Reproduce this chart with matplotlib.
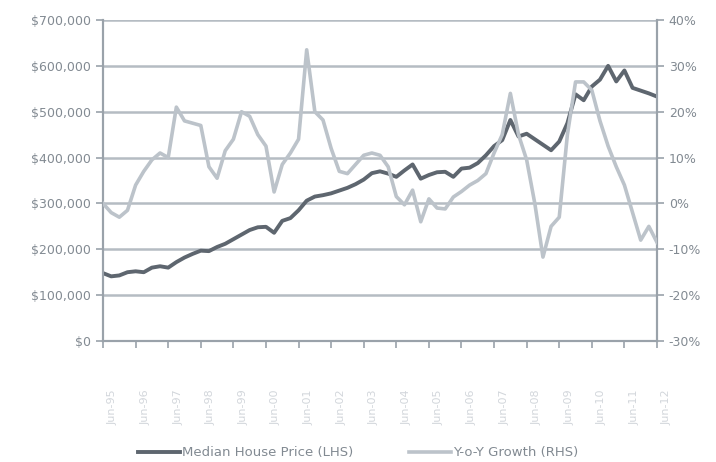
import matplotlib
matplotlib.use("Agg")
import matplotlib.pyplot as plt
import matplotlib.transforms as mtransforms
from matplotlib.ticker import FuncFormatter

# quarterly median house price ($'000) and year-on-year growth (%)
price_k = [
    148, 141, 143, 150, 152, 150, 160, 163, 160, 172,
    182, 190, 197, 196, 205, 212, 222, 232, 242, 248,
    249, 236, 262, 268, 285, 306, 315, 318, 322, 328,
    334, 342, 352, 366, 370, 365, 358, 372, 385, 354,
    362, 368, 369, 358, 376, 378, 388, 405, 425, 438,
    482, 446, 452, 440, 428, 416, 435, 475, 538, 525,
    555, 570, 600, 566, 590, 552, 546, 540, 533,
]
growth_pct = [
    0, -2, -3, -1.5, 4, 7, 9.5, 11, 10, 21,
    18, 17.5, 17, 8, 5.5, 11.5, 14, 20, 19, 15,
    12.5, 2.5, 8.5, 11, 14, 33.5, 20, 18.2, 12, 7,
    6.5, 8.5, 10.5, 11, 10.5, 8, 1.5, -0.3, 2.9, -4,
    1, -1, -1.2, 1.4, 2.6, 4, 5, 6.5, 11, 15,
    24, 15, 9.5, 0, -11.7, -5, -3, 15, 26.5, 26.5,
    24.7, 18, 12.5, 8, 4, -2, -8, -5, -8.5,
]
year_labels = [f"Jun-{y % 100:02d}" for y in range(1995, 2013)]

price = [p * 1000 for p in price_k]
growth = [g / 100 for g in growth_pct]
x = list(range(len(price)))

text_col = "#828a92"
grid_col = "#b5bcc3"
axis_col = "#9aa2aa"

plt.rcParams["font.family"] = "DejaVu Sans"
fig = plt.figure(figsize=(7.16, 4.62), dpi=100)
ax = fig.add_axes([0.1439, 0.2619, 0.7737, 0.6948])
ax2 = ax.twinx()

ax.set_ylim(0, 700000)
ax.set_yticks(range(0, 700001, 100000))
ax.yaxis.set_major_formatter(FuncFormatter(lambda v, _: f"${v:,.0f}"))
ax2.set_ylim(-0.3, 0.4)
ax2.set_yticks([i / 10 for i in range(-3, 5)])
ax2.yaxis.set_major_formatter(FuncFormatter(lambda v, _: f"{v * 100:.0f}%"))
ax.set_xlim(0, len(price) - 1)

for yv in range(100000, 700001, 100000):
    ax.axhline(yv, color=grid_col, lw=1.8, zorder=0)

l1, = ax.plot(x, price, color="#5e666f", lw=2.8, zorder=3,
              label="Median House Price (LHS)")
l2, = ax2.plot(x, growth, color="#bcc3ca", lw=2.6, zorder=3,
               label="Y-o-Y Growth (RHS)")

for a in (ax, ax2):
    a.spines["top"].set_visible(False)
    for s in ("left", "right", "bottom"):
        a.spines[s].set_color(axis_col)
        a.spines[s].set_linewidth(1.5)
    a.tick_params(colors=axis_col, labelcolor=text_col, labelsize=9,
                  length=5, width=1.2)

ax.set_xticks(range(0, len(price), 4))
ax.set_xticklabels(year_labels, rotation=90, fontsize=8, color="#d2d6db")
ax.tick_params(axis="x", pad=30)
shift = mtransforms.ScaledTranslation(10 / 100, 0, fig.dpi_scale_trans)
for lab in ax.get_xticklabels():
    lab.set_transform(lab.get_transform() + shift)

fig.legend(handles=[l1, l2], loc="lower center", bbox_to_anchor=(0.5, -0.02),
           ncol=2, frameon=False, fontsize=9.5, labelcolor=text_col,
           handlelength=3.2, handletextpad=0.15, columnspacing=4.2)

fig.savefig("out.png", dpi=100, facecolor="white")
